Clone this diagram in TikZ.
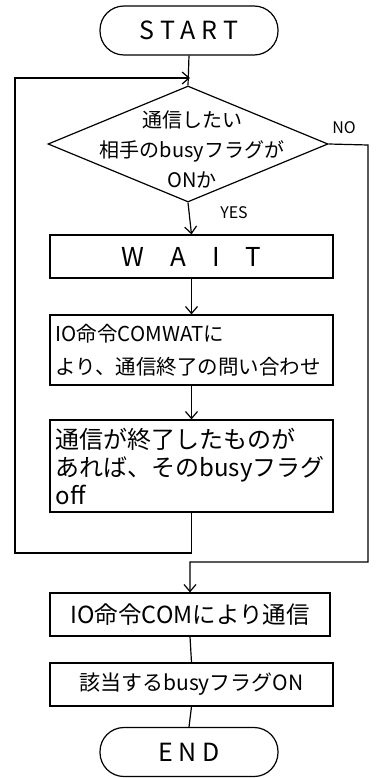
\documentclass[tikz,border=0pt]{standalone}
\usepackage{fontspec}
\newfontfamily\jp{Noto Sans CJK JP}
\usetikzlibrary{shapes.geometric,arrows.meta}
\begin{document}
\begin{tikzpicture}[x=1pt,y=-1pt,
  every path/.style={line width=1.2pt},
  terminal/.style={draw,rounded corners=24pt,minimum width=178pt,minimum height=49pt,font=\jp\fontsize{25}{26}\selectfont,inner sep=0pt},
  procbox/.style={draw,minimum width=283pt,inner sep=0pt,font=\jp\fontsize{22}{28}\selectfont},
  multibox/.style={procbox,align=left,text width=272pt},
  decision/.style={draw,diamond,minimum width=280pt,minimum height=116pt,inner sep=0pt},
  lbl/.style={font=\jp\fontsize{16}{18}\selectfont},
  arr/.style={-{Straight Barb[length=7pt,width=12pt]}}
]
\useasboundingbox (0,0) rectangle (378,778);

\node[terminal] (start) at (189,30.5) {S T A R T};
\node[decision] (dec) at (188,144) {};
\node[align=center,font=\jp\fontsize{20}{30}\selectfont] (dectext) at (192,149) {通信したい\\相手のbusyフラグが\\ONか};
\node[procbox,minimum height=43pt,font=\jp\fontsize{26}{28}\selectfont] (wait) at (191.5,256.5) {W\quad A\quad I\quad T};
\node[multibox,minimum height=70pt,font=\jp\fontsize{20.5}{33}\selectfont] (box2) at (191.5,350) {IO命令COMWATに\\より、通信終了の問い合わせ};
\node[multibox,minimum height=92pt,font=\jp\fontsize{24}{28}\selectfont] (box3) at (191.5,466) {通信が終了したものが\\あれば、そのbusyフラグ\\off};
\node[procbox,minimum width=280pt,minimum height=43pt,font=\jp\fontsize{23.5}{26}\selectfont] (box4) at (190,614.5) {IO命令COMにより通信};
\node[procbox,minimum height=43pt,font=\jp\fontsize{21}{24}\selectfont] (box5) at (191.5,684.5) {該当するbusyフラグON};
\node[terminal] (end) at (189,752) {E N D};

\node[lbl] (no) at (344,128) {NO};
\node[lbl] (yes) at (234,213) {YES};

\coordinate (merge) at (190,78);
\coordinate (loopL) at (15,553);
\coordinate (loopT) at (15,78);
\coordinate (nR) at (368,145);
\coordinate (nB) at (368,562);

\draw (start.south) -- (dec.north);
\draw[arr] (box3.south) |- (loopL) -- (loopT) -- (merge);
\draw[arr] (dec.south) -- (wait.north);
\draw[arr] (wait.south) -- (box2.north);
\draw[arr] (box2.south) -- (box3.north);
\draw[arr] (dec.east) -- (nR) -- (nB) -| (box4.north);
\draw (box4.south) -- (box5.north);
\draw (box5.south) -- (end.north);
\end{tikzpicture}
\end{document}
